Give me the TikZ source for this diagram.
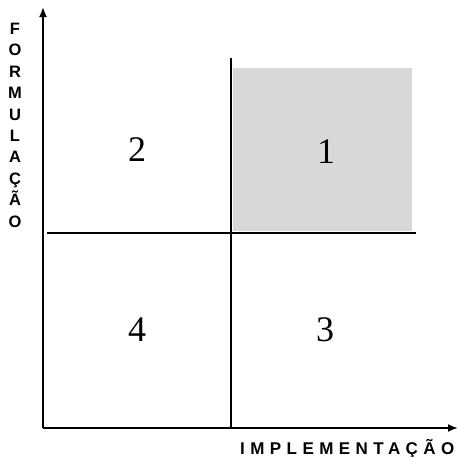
\documentclass[tikz,border=0pt]{standalone}
\usepackage{fontspec}
\setmainfont{Liberation Serif}
\newfontfamily\axisfont[LetterSpace=32]{Liberation Sans Bold}
\newfontfamily\vaxisfont{Liberation Sans Bold}
\usetikzlibrary{arrows.meta}
\definecolor{quadgray}{RGB}{216,216,216}
\tikzset{
  axis/.style={line width=1.8pt,-{Latex[length=10pt,width=8pt]}},
  divider/.style={line width=1.6pt},
  quadnum/.style={font=\fontsize{36}{36}\selectfont,inner sep=0pt},
  axlabel/.style={font=\axisfont\fontsize{17}{17}\selectfont,inner sep=0pt},
  vlabel/.style={font=\vaxisfont\fontsize{16.5}{21.4}\selectfont,inner sep=0pt,align=center}
}
\begin{document}
\begin{tikzpicture}[x=1pt,y=-1pt]
\useasboundingbox (0,0) rectangle (458,456);
\fill[white] (0,0) rectangle (458,456);
% shaded quadrant
\fill[quadgray] (233,68) rectangle (412,231);
% axes
\coordinate (O) at (43,428);
\coordinate (ytop) at (43,7);
\coordinate (xend) at (458,428);
\draw[axis] (O) -- (ytop);
\draw[axis] (O) -- (xend);
% dividers
\coordinate (vtop) at (231,58);
\coordinate (vbot) at (231,428);
\coordinate (hl) at (47,233);
\coordinate (hr) at (416,233);
\draw[divider] (vtop) -- (vbot);
\draw[divider] (hl) -- (hr);
% quadrant numbers
\node[quadnum] (q1) at (326,152) {1};
\node[quadnum] (q2) at (137,150) {2};
\node[quadnum] (q3) at (325,330) {3};
\node[quadnum] (q4) at (137,330) {4};
% axis labels
\node[vlabel,anchor=north] (ylab) at (15,23) {F\\O\\R\\M\\U\\L\\A\\Ç\\Ã\\O};
\node[axlabel,anchor=base west] (xlab) at (240,454) {IMPLEMENTAÇÃO};
\end{tikzpicture}
\end{document}
